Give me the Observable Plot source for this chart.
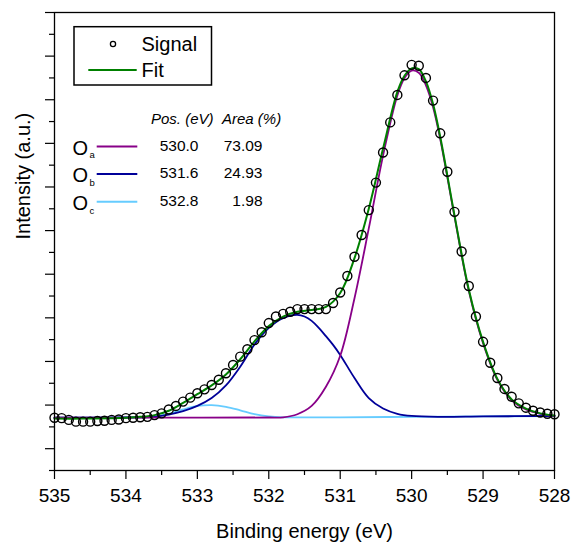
<!DOCTYPE html>
<html>
<head>
<meta charset="utf-8">
<script src="https://cdn.jsdelivr.net/npm/d3@7"></script>
<script src="https://cdn.jsdelivr.net/npm/@observablehq/plot@0.6"></script>
<style>
  body { margin: 0; background: #fff; }
  #chart { width: 571px; height: 544px; }
</style>
</head>
<body>
<div id="chart"></div>
<script>
// ---------- data (binding energy in eV, intensity in arbitrary units) ----------
const energy = [535.0, 534.9, 534.8, 534.7, 534.6, 534.5, 534.4, 534.3, 534.2, 534.1,
  534.0, 533.9, 533.8, 533.7, 533.6, 533.5, 533.4, 533.3, 533.2, 533.1,
  533.0, 532.9, 532.8, 532.7, 532.6, 532.5, 532.4, 532.3, 532.2, 532.1,
  532.0, 531.9, 531.8, 531.7, 531.6, 531.5, 531.4, 531.3, 531.2, 531.1,
  531.0, 530.9, 530.8, 530.7, 530.6, 530.5, 530.4, 530.3, 530.2, 530.1,
  530.0, 529.9, 529.8, 529.7, 529.6, 529.5, 529.4, 529.3, 529.2, 529.1,
  529.0, 528.9, 528.8, 528.7, 528.6, 528.5, 528.4, 528.3, 528.2, 528.1, 528.0];
const signal = [0.71, 0.70, 0.66, 0.62, 0.62, 0.62, 0.635, 0.64, 0.66, 0.67,
  0.70, 0.71, 0.72, 0.73, 0.77, 0.81, 0.90, 0.98, 1.08, 1.17,
  1.27, 1.36, 1.46, 1.58, 1.73, 1.92, 2.11, 2.28, 2.49, 2.67,
  2.88, 3.03, 3.09, 3.14, 3.20, 3.20, 3.20, 3.20, 3.20, 3.34,
  3.58, 3.96, 4.40, 4.90, 5.47, 6.10, 6.79, 7.48, 8.11, 8.56,
  8.80, 8.78, 8.50, 7.98, 7.23, 6.35, 5.43, 4.52, 3.73, 3.03,
  2.45, 1.97, 1.62, 1.37, 1.19, 1.04, 0.94, 0.87, 0.83, 0.80, 0.79];

const fitEnergy = [535.0, 534.6, 534.2, 534.0, 533.8, 533.6, 533.4, 533.2, 533.0, 532.8,
  532.6, 532.4, 532.2, 532.0, 531.8, 531.6, 531.4, 531.2, 531.0, 530.8,
  530.6, 530.4, 530.2, 530.1, 530.0, 529.9, 529.8, 529.7, 529.6, 529.4,
  529.2, 529.0, 528.8, 528.6, 528.4, 528.2, 528.0];
const fit = [0.69, 0.69, 0.70, 0.71, 0.73, 0.77, 0.87, 1.05, 1.25, 1.45,
  1.70, 2.05, 2.46, 2.81, 3.03, 3.14, 3.18, 3.25, 3.57, 4.37,
  5.50, 6.88, 8.18, 8.55, 8.72, 8.70, 8.42, 7.90, 7.15, 5.35,
  3.65, 2.45, 1.60, 1.13, 0.92, 0.81, 0.76];

const oaEnergy = [535.0, 533.5, 532.0, 531.8, 531.6, 531.4, 531.2, 531.0, 530.8, 530.6,
  530.4, 530.2, 530.1, 530.0, 529.9, 529.8, 529.7, 529.6, 529.4, 529.2,
  529.0, 528.8, 528.6, 528.4, 528.2, 528.0];
const oa = [0.71, 0.712, 0.715, 0.72, 0.79, 0.98, 1.42, 2.13, 3.45, 5.05,
  6.72, 8.10, 8.50, 8.67, 8.62, 8.33, 7.83, 7.10, 5.32, 3.62,
  2.42, 1.58, 1.11, 0.90, 0.80, 0.75];

const obEnergy = [535.0, 534.0, 533.8, 533.6, 533.4, 533.2, 533.0, 532.8, 532.6, 532.4,
  532.2, 532.0, 531.9, 531.8, 531.7, 531.6, 531.5, 531.4, 531.3, 531.2,
  531.1, 531.0, 530.8, 530.6, 530.4, 530.2, 530.0, 529.6, 529.0, 528.0];
const ob = [0.71, 0.715, 0.72, 0.73, 0.78, 0.86, 0.98, 1.16, 1.45, 1.88,
  2.39, 2.77, 2.90, 2.99, 3.05, 3.07, 3.03, 2.93, 2.77, 2.58,
  2.38, 2.15, 1.62, 1.16, 0.92, 0.80, 0.75, 0.73, 0.74, 0.75];

const ocEnergy = [535.0, 534.0, 533.8, 533.6, 533.4, 533.2, 533.0, 532.8, 532.6, 532.4,
  532.2, 532.0, 531.8, 531.0, 530.0, 529.0, 528.0];
const oc = [0.71, 0.715, 0.72, 0.74, 0.80, 0.90, 0.98, 1.00, 0.96, 0.88,
  0.79, 0.74, 0.72, 0.72, 0.73, 0.74, 0.75];

const xMajor = [535, 534, 533, 532, 531, 530, 529, 528];
const xMinor = [534.5, 533.5, 532.5, 531.5, 530.5, 529.5, 528.5];
const yMajor = [0, 1, 2, 3, 4, 5, 6, 7, 8, 9, 10];
const yMinor = [-0.5, 0.5, 1.5, 2.5, 3.5, 4.5, 5.5, 6.5, 7.5, 8.5, 9.5];

const components = [
  {label: "O", sub: "a", pos: "530.0", area: "73.09", color: "#880088"},
  {label: "O", sub: "b", pos: "531.6", area: "24.93", color: "#000099"},
  {label: "O", sub: "c", pos: "532.8", area: "1.98", color: "#66ccff"}
];

// ---------- build ----------
const rows = (xs, ys) => xs.map((x, i) => ({x, y: ys[i]}));
const FONT = "'Liberation Sans', Arial, Helvetica, sans-serif";

const svg = Plot.plot({
  width: 571,
  height: 544,
  marginLeft: 54,
  marginRight: 17,
  marginTop: 12,
  marginBottom: 74,
  style: {fontFamily: FONT, fontSize: "19px", color: "#000", background: "#fff", overflow: "visible"},
  x: {domain: [535, 528], axis: null},
  y: {domain: [-0.5, 10], axis: null},
  marks: [
    Plot.axisX(xMajor, {tickSize: 9, tickPadding: 9, fontSize: 19, tickFormat: d => String(d), strokeWidth: 1.2, label: null}),
    Plot.axisX(xMinor, {tickSize: 5, tickFormat: () => "", strokeWidth: 1.2, label: null}),
    Plot.axisY(yMajor, {tickSize: 9, tickFormat: () => "", strokeWidth: 1.2, label: null}),
    Plot.axisY(yMinor, {tickSize: 5, tickFormat: () => "", strokeWidth: 1.2, label: null}),
    Plot.line(rows(ocEnergy, oc), {x: "x", y: "y", stroke: components[2].color, strokeWidth: 1.8, curve: "catmull-rom"}),
    Plot.line(rows(obEnergy, ob), {x: "x", y: "y", stroke: components[1].color, strokeWidth: 1.8, curve: "catmull-rom"}),
    Plot.line(rows(oaEnergy, oa), {x: "x", y: "y", stroke: components[0].color, strokeWidth: 1.8, curve: "catmull-rom"}),
    Plot.line(rows(fitEnergy, fit), {x: "x", y: "y", stroke: "#008000", strokeWidth: 2, curve: "catmull-rom"}),
    Plot.dot(rows(energy, signal), {x: "x", y: "y", r: 4.5, stroke: "#000", strokeWidth: 1.4, fill: "none"}),
    Plot.frame({stroke: "#000", strokeWidth: 1.3}),
    Plot.text(["Binding energy (eV)"], {frameAnchor: "bottom", dy: 67, lineAnchor: "bottom", fontSize: 20}),
    Plot.text(["Intensity (a.u.)"], {frameAnchor: "left", dx: -25, dy: -2, rotate: -90, lineAnchor: "bottom", fontSize: 20})
  ]
});

// ---------- legend (inside the plot area) ----------
const g = d3.select(svg).append("g").attr("font-family", FONT).attr("fill", "#000").attr("text-anchor", "start");
g.append("rect").attr("x", 74).attr("y", 26.7).attr("width", 137.5).attr("height", 58.3)
  .attr("fill", "#fff").attr("stroke", "#000").attr("stroke-width", 1.5);
g.append("circle").attr("cx", 113).attr("cy", 44).attr("r", 2.6)
  .attr("fill", "none").attr("stroke", "#000").attr("stroke-width", 1.3);
g.append("text").attr("x", 141.5).attr("y", 50.5).attr("font-size", 20).text("Signal");
g.append("line").attr("x1", 88.3).attr("x2", 136.7).attr("y1", 70).attr("y2", 70)
  .attr("stroke", "#008000").attr("stroke-width", 2);
g.append("text").attr("x", 141.5).attr("y", 77.3).attr("font-size", 20).text("Fit");

g.append("text").attr("x", 151).attr("y", 123.5).attr("font-size", 15).attr("font-style", "italic").text("Pos. (eV)");
g.append("text").attr("x", 222).attr("y", 123.5).attr("font-size", 15).attr("font-style", "italic").text("Area (%)");

const rowY = [150.7, 178.3, 206];
components.forEach((c, i) => {
  const yb = rowY[i];
  const t = g.append("text").attr("x", 72.5).attr("y", yb + 4).attr("font-size", 20);
  t.append("tspan").text(c.label);
  t.append("tspan").attr("font-size", 9.5).attr("dy", 3.5).attr("dx", 1.5).text(c.sub);
  g.append("line").attr("x1", 96.7).attr("x2", 137.3).attr("y1", yb - 4.3).attr("y2", yb - 4.3)
    .attr("stroke", c.color).attr("stroke-width", 2);
  g.append("text").attr("x", 198.5).attr("y", yb).attr("font-size", 15.5).attr("text-anchor", "end").text(c.pos);
  g.append("text").attr("x", 262.5).attr("y", yb).attr("font-size", 15.5).attr("text-anchor", "end").text(c.area);
});

document.getElementById("chart").appendChild(svg);
</script>
</body>
</html>
